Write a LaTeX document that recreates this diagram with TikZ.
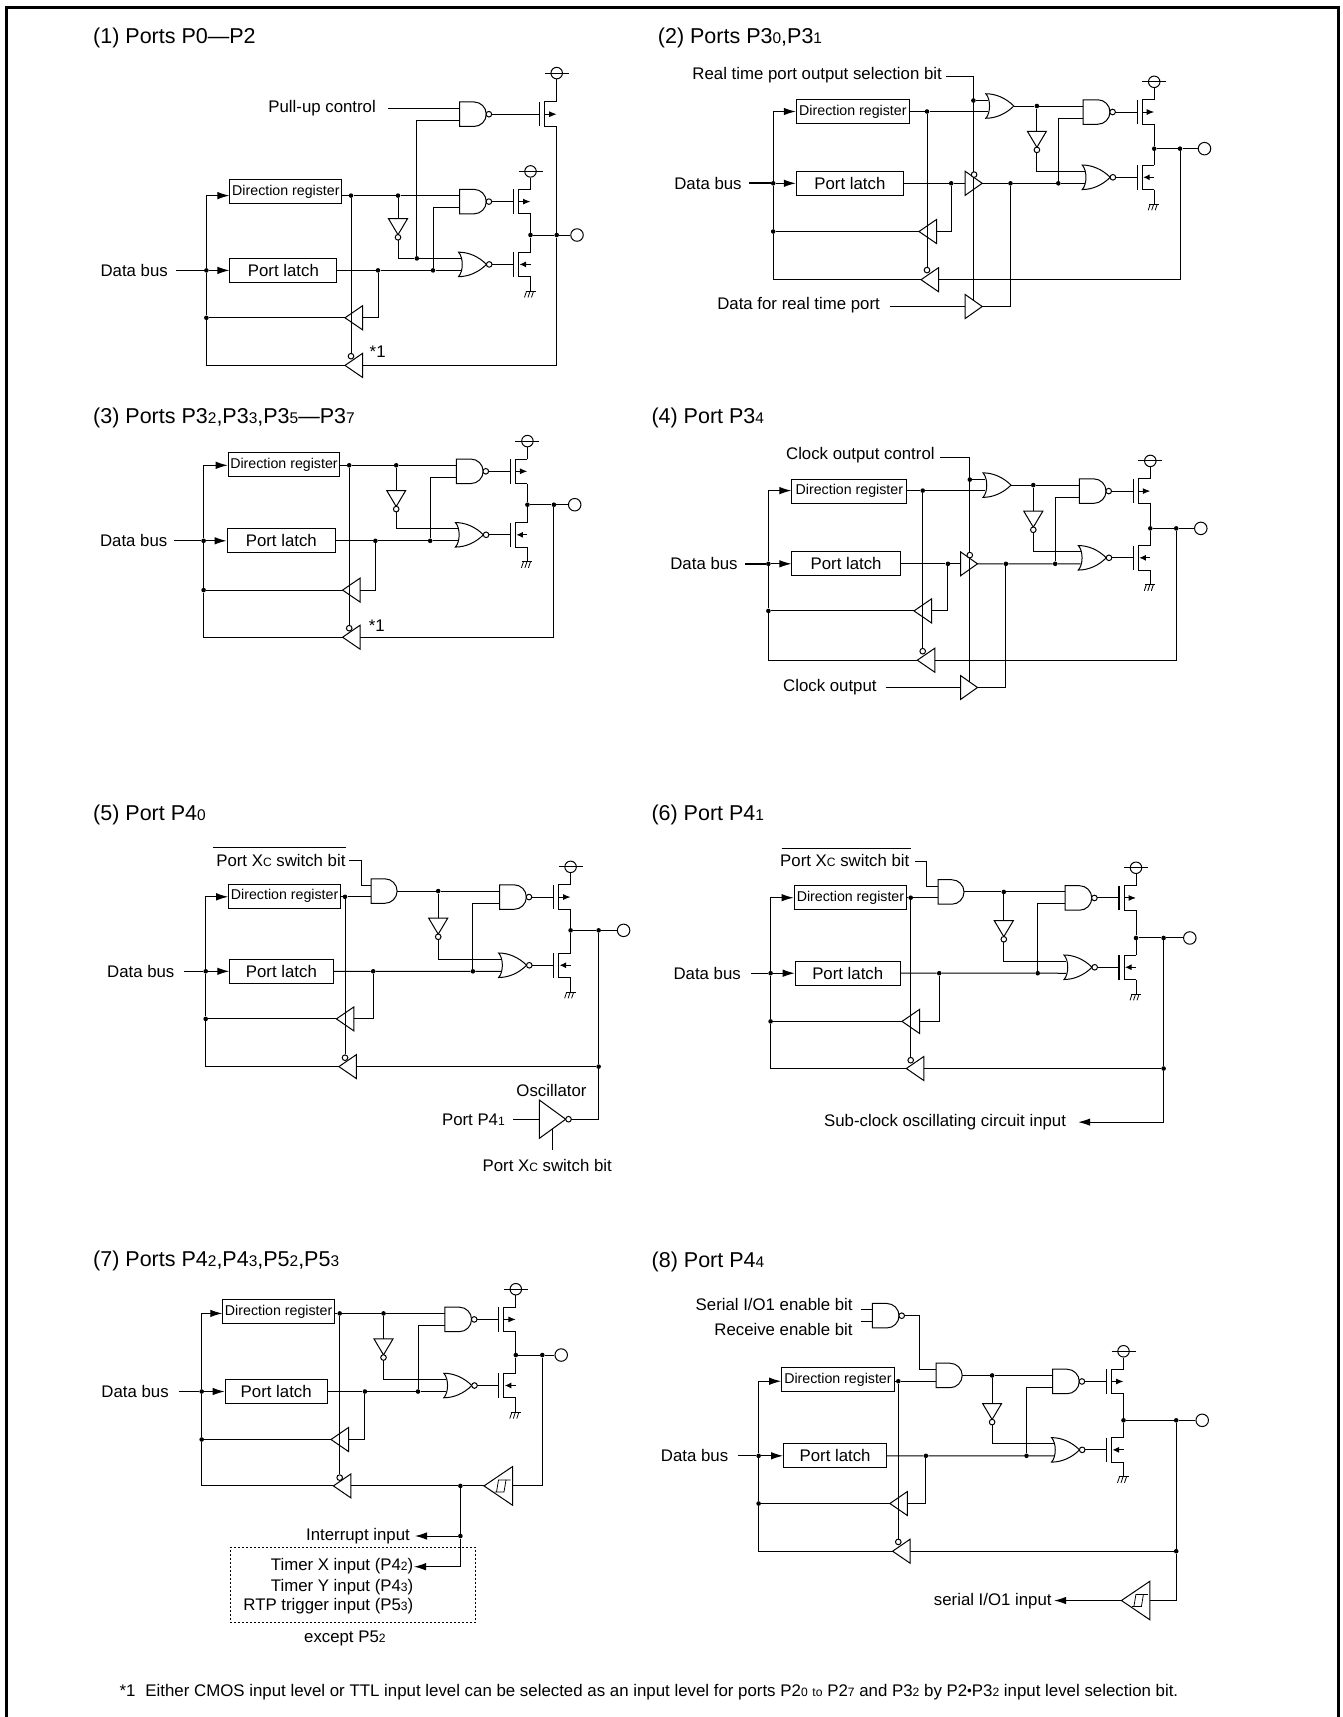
\documentclass[tikz,border=0pt]{standalone}
\usepackage{fontspec}
\setmainfont{Liberation Sans}
\usetikzlibrary{arrows.meta,positioning}
\newcommand{\lo}[1]{\scalebox{.72}{#1}}
\newcommand{\dirlabel}{Direction register}
\newcommand{\latchlabel}{Port latch}
\newcommand{\xcbit}{Port X\lo{C} switch bit}
\tikzset{
    wire/.style = { line width = 1pt },
    arrow/.style = { wire, -{Latex[length=12pt,width=7.5pt]} },
    heading/.style = { anchor = west, inner sep = 0pt, yshift = -1.3pt,
        font = \fontsize{21.5}{24}\selectfont
    },
    lbl/.style = { anchor = east, inner sep = 0pt,
        font = \fontsize{16.8}{18}\selectfont
    },
    dirbox/.style = { draw, wire, anchor = west, inner sep = 0pt,
        minimum height = 24pt,
        font = \fontsize{14.2}{16}\selectfont
    },
    latchbox/.style = { draw, wire, anchor = west, inner sep = 0pt,
        minimum height = 24pt,
        font = \fontsize{16.8}{18}\selectfont
    },
    point/.style = { circle, fill, inner sep = 0pt,
        minimum size = 4.6pt,
        node contents={}
    },
    bubble/.style = { draw, circle, fill = white, wire, inner sep = 0pt,
        minimum size = 5.6pt,
        node contents={}
    },
    pin/.style = { draw, circle, wire, inner sep = 0pt,
        minimum size = 12.5pt,
        node contents={}
    },
    pics/nandg/.style = { code = {
        \coordinate (-in1) at (0,0);
        \coordinate (-in2) at (0,12);
        \coordinate (-out) at (32,6);
        \draw[wire] (0,-6.25) -- (14.5,-6.25) arc[start angle=-90,end angle=90,radius=12.25] -- (0,18.25) -- cycle;
        \node (-b) at (29.4,6) [bubble];
    }},
    pics/norg/.style = { code = {
        \coordinate (-in2) at (1.4,0);
        \coordinate (-in1) at (1.4,-12);
        \coordinate (-out) at (32.4,-6);
        \draw[wire] (-1,-18.25) .. controls (9,-18.25) and (19,-14) .. (27,-6) .. controls (19,2) and (9,6.25) .. (-1,6.25) .. controls (4,1) and (4,-13) .. (-1,-18.25) -- cycle;
        \node (-b) at (29.7,-6) [bubble];
    }},
    pics/andg/.style = { code = {
        \coordinate (-in2) at (0,0);
        \coordinate (-in1) at (0,-11.5);
        \coordinate (-out) at (26,-5.75);
        \draw[wire] (0,-18) -- (13.75,-18) arc[start angle=-90,end angle=90,radius=12.25] -- (0,6.5) -- cycle;
    }},
    pics/org/.style = { code = {
        \coordinate (-in1) at (1.4,0);
        \coordinate (-in2) at (1.4,11);
        \coordinate (-out) at (27,5.5);
        \draw[wire] (-1,-6.75) .. controls (9,-6.75) and (19,-2.5) .. (27,5.5) .. controls (19,13.5) and (9,17.75) .. (-1,17.75) .. controls (4,12.5) and (4,-1.5) .. (-1,-6.75) -- cycle;
    }},
    pics/bufl/.style = { code = {
        \coordinate (-out) at (0,0);
        \coordinate (-in) at (17.5,0);
        \draw[wire] (-out) -- (17.5,-12) -- (17.5,12) -- cycle;
    }},
    pics/bufr/.style = { code = {
        \coordinate (-out) at (0,0);
        \coordinate (-in) at (-17,0);
        \draw[wire] (-out) -- (-17,-12) -- (-17,12) -- cycle;
    }},
    pics/invd/.style = { code = {
        \coordinate (-in) at (0,0);
        \coordinate (-out) at (0,21.3);
        \draw[wire] (-9.5,0) -- (9.5,0) -- (0,16) -- cycle;
        \node (-b) at (0,18.6) [bubble];
    }},
    pics/oscg/.style = { code = {
        \coordinate (-in) at (0,0);
        \coordinate (-out) at (32,0);
        \draw[wire] (0,-19.2) -- (0,19.2) -- (26.4,0) -- cycle;
        \node (-b) at (29.2,0) [bubble];
    }},
    pics/schmittg/.style = { code = {
        \coordinate (-out) at (0,0);
        \coordinate (-in) at (28.5,0);
        \draw[wire] (-out) -- (28.5,-19.3) -- (28.5,19.3) -- cycle;
        \draw[line width=.8pt] (10.6,6) -- (20,6) -- (22,-6) -- (26.5,-6);
        \draw[line width=.8pt] (12.5,6) -- (14.5,-6) -- (22,-6);
    }},
    pics/pmosfet/.style = { code = {
        \coordinate (-g) at (0,0);
        \coordinate (-top) at (17,-12.25);
        \coordinate (-bot) at (17,12.25);
        \draw[line width=1.3pt] (0,-12.25) -- (0,12.25);
        \draw[wire] (-top) -- (5,-12.25) -- (5,12.25) -- (-bot);
        \draw[wire,-{Latex[length=7.5pt,width=6pt]}] (5,0) -- (17,0);
    }},
    pics/nmosfet/.style = { code = {
        \coordinate (-g) at (0,0);
        \coordinate (-top) at (17,-12.25);
        \coordinate (-bot) at (17,12.25);
        \draw[line width=1.3pt] (0,-12.25) -- (0,12.25);
        \draw[wire] (-top) -- (5,-12.25) -- (5,12.25) -- (-bot);
        \draw[wire,-{Latex[length=6.5pt,width=6pt]}] (17,0) -- (6,0);
    }},
    pics/power/.style = { code = {
        \node[draw,circle,wire,inner sep=0pt,minimum size=11.5pt] (-c) at (0,0) {};
        \draw[wire] (-12,0) -- (12,0);
    }},
    pics/ground/.style = { code = {
        \coordinate (-g) at (0,0);
        \draw[wire] (-5,0) -- (5,0);
        \foreach \gx in {-4,-0.5,3} { \draw[line width=.8pt] (\gx,0) -- (\gx-2,6); }
    }},
    pics/drivers/.style 2 args = { code = {
        \pic (-nand) at (0,0) {nandg};
        \pic (-nor) at (0,#1) {norg};
        \pic (-tp) at (54,6) {pmosfet};
        \pic (-tn) at (54,#1-6) {nmosfet};
        \pic (-vcc) at (71,-24.2) {power};
        \pic (-gnd) at (71,#1+21) {ground};
        \node (-out) at (71,{#2*#1}) [point];
        \draw[wire] (-nand-out) -- (-tp-g);
        \draw[wire] (-nor-out) -- (-tn-g);
        \draw[wire] (-vcc-c) -- (-tp-top);
        \draw[wire] (-tp-bot) -- (-out) -- (-tn-top);
        \draw[wire] (-tn-bot) -- (-gnd-g);
    }}
}
\begin{document}
\begin{tikzpicture}[x=1pt,y=-1pt]
    \useasboundingbox (0,0) rectangle (1342,1717);
    \draw[line width=3pt] (6,1720) |- (1338,7) -- (1338,1720);
    \begin{scope}[yshift=-1.2pt]

    % (1) P0-P2...
    \node[heading] (h1) at (93,35) {(1) Ports P0—P2};
    \node[lbl] (t1) at (168,269.2) {Data bus};
    \node[lbl] (t1a) at (376,106.6) {Pull-up control};
    \node[lbl] (t1b) at (385.8,351) {*1};
    \node[dirbox,minimum width=112pt] (d1) at (229.4,190.2) {\dirlabel};
    \node[latchbox,minimum width=107pt] (l1) at (229.4,269.2) {\latchlabel};
    \pic (s1) at (459.5,194.4) {drivers={74.8}{.527}};
    \pic (n1) at (459.5,107) {nandg};
    \pic (m1) at (539.7,113) {pmosfet};
    \pic (v1) at (556.7,71.9) {power};
    \pic (a1) at (345,316.6) {bufl};
    \pic (b1) at (345,364.2) {bufl};
    \node (k1) at (351,355) [bubble];
    \coordinate (w1) at (175.7,269.2);
    \coordinate (w1a) at (387.5,107);
    \node (bd1) at (206.4,269.2) [point];
    \node (ba1) at (206.4,316.6) [point];
    \node (c1) at (351,194.4) [point];
    \node (i1) at (398,194.4) [point];
    \node (q1) at (378,269.2) [point];
    \node (p1) at (433,269.2) [point];
    \node (y1) at (416.8,0 |- s1-nor-in1) [point];
    \pic (u1) at (398,217.5) {invd};
    \node (o1) at (m1-bot |- s1-out) [point];
    \node (e1) at (577,0 |- s1-out) [pin];
    \draw[wire] (w1) -- (bd1);
    \draw[arrow] (bd1) -- (l1.west |- bd1);
    \draw[arrow] (bd1) |- (d1.west |- c1);
    \draw[wire] (bd1) -- (ba1) |- (b1-out);
    \draw[wire] (a1-out) -- (ba1);
    \draw[wire] (d1.east |- c1) -- (c1) -- (i1) -- (s1-nand-in1);
    \draw[wire] (c1) -- (k1);
    \draw[wire] (l1.east) -- (q1) -- (p1) -- (s1-nor-in2);
    \draw[wire] (q1) |- (a1-in);
    \draw[wire] (p1) |- (s1-nand-in2);
    \draw[wire] (i1) -- (u1-in);
    \draw[wire] (u1-out) |- (y1) -- (s1-nor-in1);
    \draw[wire] (y1) |- (n1-in2);
    \draw[wire] (w1a) -- (n1-in1);
    \draw[wire] (n1-out) -- (m1-g);
    \draw[wire] (v1-c) -- (m1-top);
    \draw[wire] (m1-bot) -- (o1) |- (b1-in);
    \draw[wire] (s1-out) -- (o1) -- (e1);

    % (2) P30,P31...
    \node[heading] (h2) at (657.7,35.8) {(2) Ports P3\lo{0},P3\lo{1}};
    \node[lbl] (t2) at (741.8,182.1) {Data bus};
    \node[lbl] (t2a) at (942,73.5) {Real time port output selection bit};
    \node[lbl] (t2b) at (880,304) {Data for real time port};
    \node[dirbox,minimum width=113.2pt] (d2) at (795.8,110.7) {\dirlabel};
    \node[latchbox,minimum width=107.2pt] (l2) at (795.8,182.1) {\latchlabel};
    \pic (g2) at (986.8,99.3) {org};
    \pic (s2) at (1083.2,0 |- g2-out) {drivers={77.3}{.552}};
    \pic (a2) at (919,230.3) {bufl};
    \pic (b2) at (921,278.5) {bufl};
    \pic (f2) at (982.2,182.1) {bufr};
    \pic (r2) at (982.2,305.3) {bufr};
    \node (k2) at (927,268.9) [bubble];
    \coordinate (w2) at (749,182.1);
    \coordinate (w2a) at (945.8,75.5);
    \coordinate (w2b) at (890,305.3);
    \coordinate (x2) at (973.4,299.7);
    \node (bd2) at (773.2,182.1) [point];
    \node (ba2) at (773.2,230.3) [point];
    \node (c2) at (927,0 |- g2-in2) [point];
    \node (z2) at (973.4,99.3) [point];
    \node (i2) at (1036.9,0 |- g2-out) [point];
    \node (q2) at (951.2,182.1) [point];
    \node (j2) at (1010.5,182.1) [point];
    \node (p2) at (1058.3,182.1) [point];
    \pic (u2) at (1036.9,130.1) {invd};
    \node (o2) at (1180,0 |- s2-out) [point];
    \node (e2) at (1204.5,0 |- s2-out) [pin];
    \draw[line width=1.8pt] (w2) -- (bd2);
    \draw[arrow] (bd2) -- (l2.west |- bd2);
    \draw[arrow] (bd2) |- (d2.west |- c2);
    \draw[wire] (bd2) -- (ba2) |- (b2-out);
    \draw[wire] (a2-out) -- (ba2);
    \draw[wire] (d2.east |- c2) -- (c2) -- (g2-in2);
    \draw[wire] (c2) -- (k2);
    \draw[wire] (w2a) -| (x2);
    \draw[wire] (z2) -- (g2-in1);
    \node (k2a) at (974.1,173.4) [bubble];
    \draw[wire] (g2-out) -- (i2) -- (s2-nand-in1);
    \draw[wire] (l2.east) -- (q2) -- (f2-in);
    \draw[wire] (q2) |- (a2-in);
    \draw[wire] (f2-out) -- (j2) -- (p2) -- (s2-nor-in2);
    \draw[wire] (j2) |- (r2-out);
    \draw[wire] (w2b) -- (r2-in);
    \draw[wire] (p2) |- (s2-nand-in2);
    \draw[wire] (i2) -- (u2-in);
    \draw[wire] (u2-out) |- (s2-nor-in1);
    \draw[wire] (s2-out) -- (o2) -- (e2);
    \draw[wire] (o2) |- (b2-in);

    % (3) P32,P33,P35-P37...
    \node[heading] (h3) at (93,415) {(3) Ports P3\lo{2},P3\lo{3},P3\lo{5}—P3\lo{7}};
    \node[lbl] (t3) at (167.5,539.6) {Data bus};
    \node[lbl] (t3a) at (385,625) {*1};
    \node[dirbox,minimum width=111.6pt] (d3) at (227.7,463.6) {\dirlabel};
    \node[latchbox,minimum width=108.4pt] (l3) at (226.6,539.6) {\latchlabel};
    \pic (s3) at (456.4,464.1) {drivers={75.5}{.522}};
    \pic (a3) at (342.6,588.9) {bufl};
    \pic (b3) at (342.6,636) {bufl};
    \node (k3) at (349.2,627) [bubble];
    \coordinate (w3) at (174,539.6);
    \node (bd3) at (203.6,539.6) [point];
    \node (ba3) at (203.6,588.9) [point];
    \node (c3) at (349.2,464.1) [point];
    \node (i3) at (396.2,464.1) [point];
    \node (q3) at (375.4,539.6) [point];
    \node (p3) at (430.2,539.6) [point];
    \pic (u3) at (396.2,489.3) {invd};
    \node (o3) at (553.9,0 |- s3-out) [point];
    \node (e3) at (574.7,0 |- s3-out) [pin];
    \draw[wire] (w3) -- (bd3);
    \draw[arrow] (bd3) -- (l3.west |- bd3);
    \draw[arrow] (bd3) |- (d3.west |- c3);
    \draw[wire] (bd3) -- (ba3) |- (b3-out);
    \draw[wire] (a3-out) -- (ba3);
    \draw[wire] (d3.east |- c3) -- (c3) -- (i3) -- (s3-nand-in1);
    \draw[wire] (c3) -- (k3);
    \draw[wire] (l3.east) -- (q3) -- (p3) -- (s3-nor-in2);
    \draw[wire] (q3) |- (a3-in);
    \draw[wire] (p3) |- (s3-nand-in2);
    \draw[wire] (i3) -- (u3-in);
    \draw[wire] (u3-out) |- (s3-nor-in1);
    \draw[wire] (s3-out) -- (o3) -- (e3);
    \draw[wire] (o3) |- (b3-in);

    % (4) P34...
    \node[heading] (h4) at (651.3,415) {(4) Port P3\lo{4}};
    \node[lbl] (t4) at (737.8,562.6) {Data bus};
    \node[lbl] (t4a) at (934.8,454.3) {Clock output control};
    \node[lbl] (t4b) at (876.8,685.5) {Clock output};
    \node[dirbox,minimum width=114.9pt] (d4) at (791.4,489.8) {\dirlabel};
    \node[latchbox,minimum width=108.4pt] (l4) at (791.4,562.6) {\latchlabel};
    \pic (g4) at (984,478.4) {org};
    \pic (s4) at (1079.3,0 |- g4-out) {drivers={78.7}{.55}};
    \pic (a4) at (914,609.7) {bufl};
    \pic (b4) at (917.3,659) {bufl};
    \pic (f4) at (977.5,562.6) {bufr};
    \pic (r4) at (977.5,686.3) {bufr};
    \node (k4) at (922.7,650) [bubble];
    \coordinate (w4) at (745.4,562.6);
    \coordinate (w4a) at (940.3,456);
    \coordinate (w4b) at (885.5,686.3);
    \coordinate (x4) at (969.8,681);
    \node (bd4) at (768.4,562.6) [point];
    \node (ba4) at (768.4,609.7) [point];
    \node (c4) at (922.7,0 |- g4-in2) [point];
    \node (z4) at (969.8,478.4) [point];
    \node (i4) at (1033.3,0 |- g4-out) [point];
    \node (q4) at (947.9,562.6) [point];
    \node (j4) at (1005.9,562.6) [point];
    \node (p4) at (1055.2,562.6) [point];
    \pic (u4) at (1033.3,510) {invd};
    \node (o4) at (1176.2,0 |- s4-out) [point];
    \node (e4) at (1200.8,0 |- s4-out) [pin];
    \draw[line width=1.8pt] (w4) -- (bd4);
    \draw[arrow] (bd4) -- (l4.west |- bd4);
    \draw[arrow] (bd4) |- (d4.west |- c4);
    \draw[wire] (bd4) -- (ba4) |- (b4-out);
    \draw[wire] (a4-out) -- (ba4);
    \draw[wire] (d4.east |- c4) -- (c4) -- (g4-in2);
    \draw[wire] (c4) -- (k4);
    \draw[wire] (w4a) -| (x4);
    \draw[wire] (z4) -- (g4-in1);
    \node (k4a) at (969.8,553.9) [bubble];
    \draw[wire] (g4-out) -- (i4) -- (s4-nand-in1);
    \draw[wire] (l4.east) -- (q4) -- (f4-in);
    \draw[wire] (q4) |- (a4-in);
    \draw[wire] (f4-out) -- (j4) -- (p4) -- (s4-nor-in2);
    \draw[wire] (j4) |- (r4-out);
    \draw[wire] (w4b) -- (r4-in);
    \draw[wire] (p4) |- (s4-nand-in2);
    \draw[wire] (i4) -- (u4-in);
    \draw[wire] (u4-out) |- (s4-nor-in1);
    \draw[wire] (s4-out) -- (o4) -- (e4);
    \draw[wire] (o4) |- (b4-in);

    % (5) P40...
    \node[heading] (h5) at (93,812) {(5) Port P4\lo{0}};
    \node[lbl] (t5) at (174.6,970.1) {Data bus};
    \node[lbl] (t5a) at (345.7,859.1) {\xcbit};
    \node[lbl] (t5b) at (505,1118.7) {Port P4\lo{1}};
    \node[lbl] (t5c) at (612,1163.8) {\xcbit};
    \node[lbl] (t5d) at (586.7,1089.3) {Oscillator};
    \draw[wire] (213.2,846.6) -- (346,846.6);
    \node[dirbox,minimum width=111.8pt] (d5) at (228.2,895) {\dirlabel};
    \node[latchbox,minimum width=103.2pt] (l5) at (229.3,970.1) {\latchlabel};
    \pic (g5) at (371.1,895.6) {andg};
    \pic (s5) at (499.6,0 |- g5-out) {drivers={80.2}{.49}};
    \pic (a5) at (336.4,1017.7) {bufl};
    \pic (b5) at (338.9,1065.4) {bufl};
    \node (k5) at (345,1056.5) [bubble];
    \pic (m5) at (539.3,1118) {oscg};
    \coordinate (w5) at (184.3,970.1);
    \coordinate (w5a) at (349,858.8);
    \coordinate (x5) at (361.8,0 |- g5-in1);
    \coordinate (w5b) at (513.2,1118);
    \coordinate (w5c) at (552.9,1127.3);
    \coordinate (w5d) at (552.9,1148.5);
    \node (bd5) at (205.7,970.1) [point];
    \node (ba5) at (205.7,1017.7) [point];
    \node (c5) at (345,895.6) [point];
    \node (i5) at (438.2,0 |- g5-out) [point];
    \node (q5) at (373.2,970.1) [point];
    \node (p5) at (472.9,970.1) [point];
    \pic (u5) at (438.2,917) {invd};
    \node (o5) at (598.6,0 |- s5-out) [point];
    \node (f5) at (598.6,1065.4) [point];
    \node (e5) at (623.6,0 |- s5-out) [pin];
    \draw[wire] (w5) -- (bd5);
    \draw[arrow] (bd5) -- (l5.west |- bd5);
    \draw[arrow] (bd5) |- (d5.west |- c5);
    \draw[wire] (bd5) -- (ba5) |- (b5-out);
    \draw[wire] (a5-out) -- (ba5);
    \draw[wire] (d5.east |- c5) -- (c5) -- (g5-in2);
    \draw[wire] (c5) -- (k5);
    \draw[wire] (w5a) -| (x5) -- (g5-in1);
    \draw[wire] (g5-out) -- (i5) -- (s5-nand-in1);
    \draw[wire] (l5.east) -- (q5) -- (p5) -- (s5-nor-in2);
    \draw[wire] (q5) |- (a5-in);
    \draw[wire] (p5) |- (s5-nand-in2);
    \draw[wire] (i5) -- (u5-in);
    \draw[wire] (u5-out) |- (s5-nor-in1);
    \draw[wire] (s5-out) -- (o5) -- (e5);
    \draw[wire] (o5) -- (f5) |- (m5-out);
    \draw[wire] (f5) -- (b5-in);
    \draw[wire] (w5b) -- (m5-in);
    \draw[wire] (w5c) -- (w5d);

    % (6) P41...
    \node[heading] (h6) at (651.3,812) {(6) Port P4\lo{1}};
    \node[lbl] (t6) at (741,972) {Data bus};
    \node[lbl] (t6a) at (909.6,859.3) {\xcbit};
    \node[lbl] (t6b) at (1066.2,1120.9) {Sub-clock oscillating circuit input};
    \draw[wire] (781.5,847.2) -- (910.7,847.2);
    \node[dirbox,minimum width=112.7pt] (d6) at (793.6,896.5) {\dirlabel};
    \node[latchbox,minimum width=105.1pt] (l6) at (794.7,972) {\latchlabel};
    \pic (g6) at (938,896.5) {andg};
    \pic (s6) at (1065,0 |- g6-out) {drivers={81.3}{.566}};
    \pic (a6) at (902,1020.2) {bufl};
    \pic (b6) at (906.3,1067.3) {bufl};
    \node (k6) at (910.7,1059) [bubble];
    \coordinate (w6) at (750.9,972);
    \coordinate (w6a) at (915,860);
    \coordinate (x6) at (926,0 |- g6-in1);
    \coordinate (w6b) at (1078.2,1120.9);
    \node (bd6) at (770.6,972) [point];
    \node (ba6) at (770.6,1020.2) [point];
    \node (c6) at (910.7,896.5) [point];
    \node (i6) at (1003.8,0 |- g6-out) [point];
    \node (q6) at (939.2,972) [point];
    \node (p6) at (1037.7,972) [point];
    \pic (u6) at (1003.8,919.5) {invd};
    \node (o6) at (1163.6,0 |- s6-out) [point];
    \node (f6) at (1163.6,1067.3) [point];
    \node (e6) at (1189.8,0 |- s6-out) [pin];
    \draw[wire] (w6) -- (bd6);
    \draw[arrow] (bd6) -- (l6.west |- bd6);
    \draw[arrow] (bd6) |- (d6.west |- c6);
    \draw[wire] (bd6) -- (ba6) |- (b6-out);
    \draw[wire] (a6-out) -- (ba6);
    \draw[wire] (d6.east |- c6) -- (c6) -- (g6-in2);
    \draw[wire] (c6) -- (k6);
    \draw[wire] (w6a) -| (x6) -- (g6-in1);
    \draw[wire] (g6-out) -- (i6) -- (s6-nand-in1);
    \draw[wire] (l6.east) -- (q6) -- (p6) -- (s6-nor-in2);
    \draw[wire] (q6) |- (a6-in);
    \draw[wire] (p6) |- (s6-nand-in2);
    \draw[wire] (i6) -- (u6-in);
    \draw[wire] (u6-out) |- (s6-nor-in1);
    \draw[wire] (s6-out) -- (o6) -- (e6);
    \draw[wire] (o6) -- (f6) -- (b6-in);
    \draw[arrow] (f6) |- (w6b);

    % (7) P42,P43,P52,P53...
    \node[heading] (h7) at (93,1258.8) {(7) Ports P4\lo{2},P4\lo{3},P5\lo{2},P5\lo{3}};
    \node[lbl] (t7) at (168.9,1390.3) {Data bus};
    \node[lbl] (t7a) at (410,1535) {Interrupt input};
    \node[lbl] (t7b) at (413.5,1565) {Timer X input (P4\lo{2})};
    \node[lbl] (t7c) at (413.5,1586) {Timer Y input (P4\lo{3})};
    \node[lbl] (t7d) at (413.5,1604.6) {RTP trigger input (P5\lo{3})};
    \node[lbl] (t7e) at (385.8,1637.7) {except P5\lo{2}};
    \node[draw,wire,dash pattern=on 2pt off 2pt,anchor=north west,inner sep=0pt,
        minimum width=245.4pt,minimum height=74.9pt] (x7) at (229.9,1545.6) {};
    \node[dirbox,minimum width=111.7pt] (d7) at (222.3,1310.7) {\dirlabel};
    \node[latchbox,minimum width=102.2pt] (l7) at (224.6,1390.3) {\latchlabel};
    \pic (s7) at (444.8,1312.2) {drivers={78.1}{.533}};
    \pic (a7) at (331,1438.3) {bufl};
    \pic (b7) at (333.4,1484.7) {bufl};
    \node (k7) at (339.7,1476.4) [bubble];
    \pic (y7) at (484,1484.7) {schmittg};
    \coordinate (w7) at (178.8,1390.3);
    \coordinate (w7a) at (415,1534.8);
    \coordinate (w7b) at (414,1565.5);
    \node (bd7) at (201.7,1390.3) [point];
    \node (ba7) at (201.7,1438.3) [point];
    \node (c7) at (339.7,1312.2) [point];
    \node (i7) at (383.5,1312.2) [point];
    \node (q7) at (364.9,1390.3) [point];
    \node (p7) at (418,1390.3) [point];
    \pic (u7) at (383.5,1337.7) {invd};
    \node (o7) at (542.3,0 |- s7-out) [point];
    \node (e7) at (561.2,0 |- s7-out) [pin];
    \node (f7) at (460.4,1484.7) [point];
    \node (f7a) at (460.4,1534.8) [point];
    \draw[wire] (w7) -- (bd7);
    \draw[arrow] (bd7) -- (l7.west |- bd7);
    \draw[arrow] (bd7) |- (d7.west |- c7);
    \draw[wire] (bd7) -- (ba7) |- (b7-out);
    \draw[wire] (a7-out) -- (ba7);
    \draw[wire] (d7.east |- c7) -- (c7) -- (i7) -- (s7-nand-in1);
    \draw[wire] (c7) -- (k7);
    \draw[wire] (l7.east) -- (q7) -- (p7) -- (s7-nor-in2);
    \draw[wire] (q7) |- (a7-in);
    \draw[wire] (p7) |- (s7-nand-in2);
    \draw[wire] (i7) -- (u7-in);
    \draw[wire] (u7-out) |- (s7-nor-in1);
    \draw[wire] (s7-out) -- (o7) -- (e7);
    \draw[wire] (o7) |- (y7-in);
    \draw[wire] (y7-out) -- (f7) -- (b7-in);
    \draw[wire] (f7) -- (f7a);
    \draw[arrow] (f7a) -- (w7a);
    \draw[arrow] (f7a) |- (w7b);

    % (8) P44...
    \node[heading] (h8) at (651.5,1259.2) {(8) Port P4\lo{4}};
    \node[lbl] (t8) at (728.4,1454.6) {Data bus};
    \node[lbl] (t8a) at (852.8,1303.6) {Serial I/O1 enable bit};
    \node[lbl] (t8b) at (852.8,1328.7) {Receive enable bit};
    \node[lbl] (t8c) at (1051.8,1600.3) {serial I/O1 input};
    \node[dirbox,minimum width=112.5pt] (d8) at (781.2,1378.2) {\dirlabel};
    \node[latchbox,minimum width=103pt] (l8) at (783.1,1454.6) {\latchlabel};
    \pic (n8) at (872.3,1308.5) {nandg};
    \pic (g8) at (936.2,1380) {andg};
    \pic (s8) at (1052.5,0 |- g8-out) {drivers={80.4}{.558}};
    \pic (a8) at (889.9,1502.3) {bufl};
    \pic (b8) at (892.6,1550) {bufl};
    \node (k8) at (898.3,1540.7) [bubble];
    \pic (y8) at (1121.4,1599.3) {schmittg};
    \coordinate (w8) at (738,1454.6);
    \coordinate (w8a) at (861.2,0 |- n8-in1);
    \coordinate (w8b) at (861.2,0 |- n8-in2);
    \coordinate (x8) at (919.8,0 |- g8-in1);
    \coordinate (w8c) at (1054.1,1599.3);
    \node (bd8) at (758.6,1454.6) [point];
    \node (ba8) at (758.6,1502.3) [point];
    \node (c8) at (898.3,1380) [point];
    \node (i8) at (992.1,0 |- g8-out) [point];
    \node (q8) at (925.9,1454.6) [point];
    \node (p8) at (1026.5,1454.6) [point];
    \pic (u8) at (992.1,1402.3) {invd};
    \node (o8) at (1176.2,0 |- s8-out) [point];
    \node (f8) at (1176.2,1550) [point];
    \node (e8) at (1202.2,0 |- s8-out) [pin];
    \draw[wire] (w8) -- (bd8);
    \draw[arrow] (bd8) -- (l8.west |- bd8);
    \draw[arrow] (bd8) |- (d8.west |- c8);
    \draw[wire] (bd8) -- (ba8) |- (b8-out);
    \draw[wire] (a8-out) -- (ba8);
    \draw[wire] (d8.east |- c8) -- (c8) -- (g8-in2);
    \draw[wire] (c8) -- (k8);
    \draw[wire] (w8a) -- (n8-in1);
    \draw[wire] (w8b) -- (n8-in2);
    \draw[wire] (n8-out) -| (x8) -- (g8-in1);
    \draw[wire] (g8-out) -- (i8) -- (s8-nand-in1);
    \draw[wire] (l8.east) -- (q8) -- (p8) -- (s8-nor-in2);
    \draw[wire] (q8) |- (a8-in);
    \draw[wire] (p8) |- (s8-nand-in2);
    \draw[wire] (i8) -- (u8-in);
    \draw[wire] (u8-out) |- (s8-nor-in1);
    \draw[wire] (s8-out) -- (o8) -- (e8);
    \draw[wire] (o8) -- (f8) -- (b8-in);
    \draw[wire] (f8) |- (y8-in);
    \draw[arrow] (y8-out) -- (w8c);

    % Notes...
    \node[anchor=west,inner sep=0pt,font=\fontsize{16.85}{18}\selectfont] (n) at (119.3,1691) {
        *1\hspace{10pt}Either CMOS input level or TTL input level can be selected as an input level for ports P2\lo{0} \lo{to} P2\lo{7} and P3\lo{2} by P2\raisebox{.15ex}{\scalebox{.8}{•}}P3\lo{2} input level selection bit.
    };
    \end{scope}
\end{tikzpicture}
\end{document}
